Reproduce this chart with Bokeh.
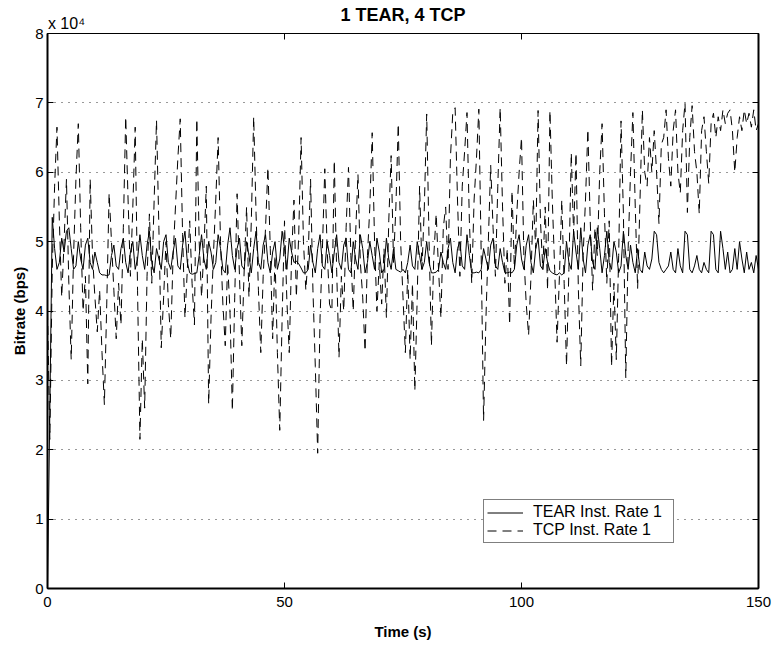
from bokeh.plotting import figure
from bokeh.models import (ColumnDataSource, FixedTicker, LinearAxis,
                          Legend, LegendItem, Range1d, CustomLabelingPolicy)
from bokeh.embed import file_html
from bokeh.resources import INLINE
import numpy as np

# ---------------- data (bitrate in units of 10^4 bps, sampled every 0.5 s) ----
time_s = np.arange(0, 150.5, 0.5)

tear_rate = [
    0.0, 2.6, 5.35, 4.9, 4.6, 4.7, 5.05, 4.85, 5.15, 5.2,
    4.9, 4.6, 4.65, 5.0, 4.75, 4.6, 4.95, 5.05, 4.7, 4.6,
    4.85, 4.7, 4.55, 4.52, 4.52, 4.51, 4.52, 4.8, 4.95, 4.65,
    4.6, 4.9, 5.05, 4.7, 4.55, 4.85, 5.0, 4.6, 4.75, 5.1,
    4.8, 4.6, 4.95, 5.15, 4.7, 4.55, 4.9, 4.75, 4.6, 5.0,
    5.1, 4.7, 4.6, 4.85, 5.05, 4.65, 4.6, 4.95, 5.15, 4.7,
    4.55, 4.53, 4.54, 4.55, 4.8, 5.1, 4.75, 4.6, 5.0, 4.85,
    4.6, 4.7, 5.1, 4.9, 4.6, 4.55, 4.95, 5.2, 4.8, 4.6,
    4.9, 5.05, 4.65, 4.6, 5.0, 4.8, 4.55, 4.9, 5.15, 4.7,
    4.6, 4.95, 5.1, 4.7, 4.55, 4.85, 5.0, 4.6, 4.75, 5.15,
    4.9, 4.6, 5.05, 4.85, 4.7, 4.72, 4.68, 4.62, 4.55, 4.55,
    4.6, 4.95, 4.7, 4.55, 4.9, 5.1, 4.65, 4.6, 5.0, 4.8,
    4.55, 4.85, 5.1, 4.7, 4.6, 4.95, 5.05, 4.6, 4.55, 5.0,
    4.75, 4.6, 5.1, 4.9, 4.55, 4.7, 5.0, 4.8, 4.6, 5.05,
    4.85, 4.55, 4.6, 5.05, 4.75, 4.6, 4.9, 4.6, 4.58, 4.56,
    4.6, 4.55, 4.7, 4.95, 4.65, 4.6, 5.0, 4.8, 4.6, 4.7,
    5.0, 4.7, 4.55, 4.55, 4.56, 4.6, 4.85, 4.7, 4.6, 4.9,
    5.05, 4.7, 4.55, 4.9, 5.0, 4.65, 4.6, 5.1, 4.8, 4.55,
    4.55, 4.56, 4.55, 4.6, 4.9, 4.75, 4.6, 4.95, 5.05, 4.65,
    4.6, 4.9, 4.7, 4.55, 4.55, 4.56, 4.55, 4.6, 4.95, 5.1,
    4.75, 4.6, 4.95, 5.1, 4.7, 4.55, 4.9, 5.05, 4.65, 4.6,
    4.9, 4.7, 4.58, 4.55, 4.53, 4.52, 4.55, 4.52, 4.55, 5.0,
    4.7, 4.6, 5.15, 4.85, 4.6, 5.2, 4.75, 4.55, 4.95, 5.1,
    4.7, 4.6, 5.2, 4.9, 4.55, 4.8, 5.15, 4.7, 4.6, 5.0,
    4.85, 4.55, 4.65, 5.15, 4.8, 4.6, 4.95, 4.7, 4.55, 4.9,
    4.6, 4.55, 4.85, 4.65, 4.6, 4.75, 5.15, 5.1, 4.7, 4.6,
    4.55, 4.6, 4.65, 4.85, 4.6, 4.55, 4.9, 4.65, 4.55, 5.15,
    5.1, 4.6, 4.55, 4.65, 4.8, 4.6, 4.55, 4.7, 4.6, 4.55,
    5.15, 5.1, 4.6, 4.55, 5.15, 4.9, 4.6, 4.85, 4.55, 4.6,
    4.9, 4.6, 5.0, 4.75, 4.55, 4.85, 4.6, 4.7, 4.55, 4.8,
    4.6,
]

tcp_rate = [
    4.0, 2.15, 4.6, 5.8, 6.65, 5.3, 4.2, 5.0, 5.9, 4.4,
    3.3, 4.8, 5.9, 6.7, 5.2, 4.0, 4.5, 2.95, 5.9, 4.8,
    4.2, 3.7, 4.3, 3.4, 2.65, 4.1, 5.7, 5.0, 4.3, 3.6,
    4.4, 3.8, 5.2, 6.8, 5.6, 4.5, 5.5, 6.65, 4.3, 2.15,
    3.6, 2.6, 4.5, 5.4, 4.4, 5.6, 6.75, 5.2, 3.47, 4.2,
    5.0, 4.1, 3.6, 4.8, 5.5, 6.2, 6.77, 5.1, 3.9, 4.6,
    5.3, 4.4, 3.8, 6.77, 5.0, 4.2, 4.9, 5.8, 2.66, 3.9,
    4.8, 5.6, 6.5, 5.0, 4.1, 3.5, 4.7, 4.0, 2.56, 4.2,
    5.69, 4.5, 3.5, 4.6, 5.5, 4.2, 5.3, 6.8, 5.4, 4.3,
    3.4, 4.5, 5.2, 6.07, 4.9, 3.6, 4.8, 3.4, 2.28, 3.9,
    5.3, 4.15, 3.4, 4.8, 5.6, 4.2, 5.1, 6.5, 5.0, 4.3,
    4.8, 5.9, 4.3, 3.2, 1.95, 3.9, 4.9, 6.05, 4.9, 4.1,
    4.0, 6.17, 4.6, 3.33, 4.5, 4.0, 5.2, 6.07, 4.8, 4.0,
    5.1, 5.97, 4.7, 4.2, 3.42, 4.8, 5.5, 6.57, 5.0, 4.0,
    4.7, 4.1, 4.9, 3.9, 5.3, 6.24, 4.7, 5.5, 6.7, 5.0,
    4.2, 3.4, 4.6, 3.3, 4.4, 2.85, 4.2, 5.8, 4.6, 5.5,
    6.84, 5.0, 3.5, 4.8, 5.4, 4.6, 3.9, 5.2, 5.5, 4.6,
    6.2, 6.86, 6.93, 5.6, 4.5, 5.8, 6.3, 6.86, 5.3, 4.4,
    5.6, 6.2, 6.91, 4.8, 2.42, 3.9, 5.0, 6.1, 5.2, 4.5,
    5.8, 6.93, 5.5, 4.4, 4.9, 3.8, 5.73, 4.6, 5.4, 6.0,
    6.5, 4.8, 4.1, 3.65, 4.5, 5.6, 4.9, 6.89, 5.3, 4.6,
    5.5, 4.3, 6.89, 5.6, 4.6, 3.55, 4.5, 5.6, 4.4, 3.21,
    4.6, 6.28, 5.1, 6.28, 4.3, 3.21, 4.8, 5.6, 6.62, 5.3,
    4.3, 5.2, 4.8, 6.0, 6.7, 5.4, 4.4, 5.3, 3.2, 4.4,
    3.3, 4.8, 6.74, 5.4, 3.04, 4.9, 6.0, 6.86, 5.5, 4.32,
    5.6, 6.9, 6.0, 5.8, 6.5, 6.0, 6.6, 6.0, 5.26, 6.4,
    6.5, 6.9, 6.2, 5.8, 6.6, 6.9, 6.0, 5.7, 6.6, 7.0,
    5.42, 6.5, 6.96, 6.3, 6.0, 5.4, 6.6, 6.8, 6.3, 5.84,
    6.7, 6.85, 6.5, 6.8, 6.6, 6.9, 6.7, 6.85, 6.9, 6.6,
    6.0, 6.5, 6.8, 6.6, 6.9, 6.7, 6.85, 6.65, 6.9, 6.6,
    6.7,
]

x_ticks = [0, 50, 100, 150]
y_ticks = [0, 1, 2, 3, 4, 5, 6, 7, 8]
title_text = "1 TEAR, 4 TCP"
x_label = "Time (s)"
y_label = "Bitrate (bps)"
exp_text = "x 10\u2074"
exp_anchor = [4]          # x position (s) where the exponent text is centred
series_names = ["TEAR Inst. Rate 1", "TCP Inst. Rate 1"]

FONT = "Liberation Sans"

src = ColumnDataSource(dict(t=time_s, tear=tear_rate, tcp=tcp_rate))

p = figure(width=776, height=647, output_backend="svg", toolbar_location=None,
           x_range=Range1d(0, 150), y_range=Range1d(0, 8),
           min_border_left=47, min_border_right=18,
           min_border_top=33, min_border_bottom=59)
p.title_location = None

p.background_fill_color = "white"
p.border_fill_color = "white"
p.outline_line_color = "black"
p.outline_line_width = 1

# lines
r_tcp = p.line("t", "tcp", source=src, line_color="black", line_width=1,
               line_dash="9 6")
r_tear = p.line("t", "tear", source=src, line_color="black", line_width=1)

# axes
for ax in (p.xaxis[0], p.yaxis[0]):
    ax.major_tick_in = 6
    ax.major_tick_out = 0
    ax.minor_tick_line_color = None
    ax.major_label_text_font = FONT
    ax.major_label_text_font_size = "15px"
    ax.major_label_text_color = "black"
    ax.axis_label_text_font = FONT
    ax.axis_label_text_font_size = "15px"
    ax.axis_label_text_font_style = "bold"
    ax.axis_label_text_color = "black"
    ax.axis_line_width = 2
    ax.major_tick_line_width = 1

p.xaxis[0].ticker = FixedTicker(ticks=x_ticks)
p.yaxis[0].ticker = FixedTicker(ticks=y_ticks)
p.xaxis[0].axis_label = x_label
p.yaxis[0].axis_label = y_label
p.xaxis[0].major_label_standoff = 8
p.xaxis[0].axis_label_standoff = 13
p.yaxis[0].major_label_standoff = 4
p.yaxis[0].axis_label_standoff = 4

no_labels = CustomLabelingPolicy(code="""
    try {
        for (const i of Array.from(indices)) indices.unset(i)
    } catch (e) {}
    return indices
""")

# top axis with inward ticks only
top_ticks = LinearAxis(ticker=FixedTicker(ticks=x_ticks), major_tick_in=6,
                       major_tick_out=0, minor_tick_line_color=None,
                       axis_line_width=1, major_label_policy=no_labels,
                       major_label_standoff=0, major_label_text_font_size="0px")
# second top axis carrying the exponent text and the title
top_text = LinearAxis(ticker=FixedTicker(ticks=exp_anchor),
                      axis_line_color=None, major_tick_line_color=None,
                      minor_tick_line_color=None,
                      major_tick_in=0, major_tick_out=0,
                      major_label_overrides={exp_anchor[0]: exp_text},
                      major_label_text_font=FONT,
                      major_label_text_font_size="16px",
                      major_label_text_color="black",
                      major_label_standoff=2,
                      axis_label=title_text, axis_label_text_font=FONT,
                      axis_label_text_font_size="18px",
                      axis_label_text_font_style="bold",
                      axis_label_text_color="black", axis_label_standoff=-13)
right = LinearAxis(ticker=FixedTicker(ticks=y_ticks), major_tick_in=6,
                   major_tick_out=0, minor_tick_line_color=None,
                   major_label_policy=no_labels, major_label_standoff=0,
                   major_label_text_font_size="0px", axis_line_width=2)
p.add_layout(top_ticks, "above")
p.add_layout(top_text, "above")
p.add_layout(right, "right")

# grid: dotted horizontal only
p.xgrid.grid_line_color = None
p.ygrid.ticker = FixedTicker(ticks=y_ticks)
p.ygrid.grid_line_color = "black"
p.ygrid.grid_line_dash = "1 6"
p.ygrid.grid_line_width = 1
p.ygrid.grid_line_alpha = 0.8

# legend
legend = Legend(items=[LegendItem(label=series_names[0], renderers=[r_tear]),
                       LegendItem(label=series_names[1], renderers=[r_tcp])],
                location=(436, 45))
legend.label_text_font = FONT
legend.label_text_font_size = "16px"
legend.label_text_color = "black"
legend.glyph_width = 36
legend.glyph_height = 17
legend.label_height = 17
legend.label_width = 137
legend.label_standoff = 10
legend.padding = 3
legend.spacing = 0
legend.margin = 0
legend.border_line_color = "black"
legend.border_line_width = 1
legend.background_fill_color = "white"
legend.background_fill_alpha = 1
p.add_layout(legend, "center")

open("out.html", "w").write(file_html(p, INLINE))
